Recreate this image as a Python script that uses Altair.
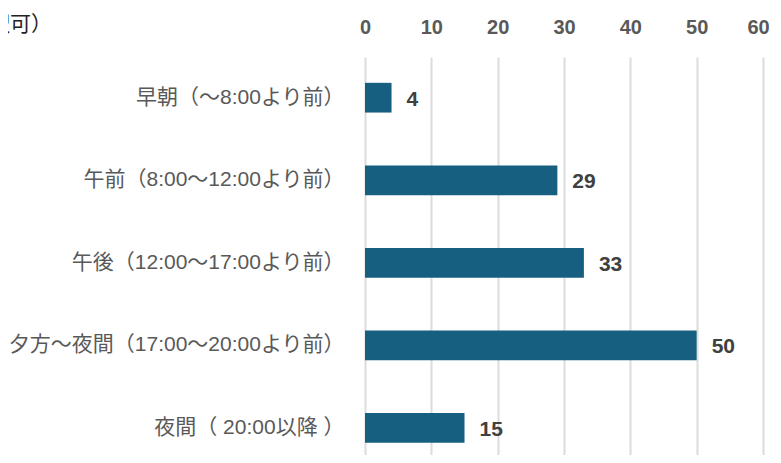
import altair as alt
import pandas as pd

categories = [
    "早朝（～8:00より前）",
    "午前（8:00～12:00より前）",
    "午後（12:00～17:00より前）",
    "夕方～夜間（17:00～20:00より前）",
    "夜間（ 20:00以降 ）",
]
values = [4, 29, 33, 50, 15]
x_ticks = [0, 10, 20, 30, 40, 50, 60]
title_text = "（複数選択可）"

df = pd.DataFrame({"cat": categories, "val": values})

FONT = "Liberation Sans, Noto Sans CJK JP"
BAR = "#175f80"

y_enc = alt.Y(
    "cat:N",
    sort=categories,
    scale=alt.Scale(paddingInner=0.64, paddingOuter=0.23, align=0.68),
    axis=alt.Axis(
        title=None, ticks=False, domain=False, labelPadding=21,
        labelFont=FONT, labelFontSize=21, labelColor="#595959",
        labelLimit=400,
    ),
)
x_enc = alt.X(
    "val:Q",
    scale=alt.Scale(domain=[0, 60], nice=False),
    axis=alt.Axis(
        orient="top", values=x_ticks, title=None, ticks=False, domain=False,
        labelFont="Liberation Sans", labelFontSize=20, labelFontWeight="bold",
        labelColor="#595959", labelPadding=20, labelFlush=False,
        labelOffset={"condition": {"test": "datum.value == 60", "value": -5}, "value": 0},
        grid=True, gridColor="#dcdcdc", gridWidth=2,
    ),
)

bars = alt.Chart(df).mark_bar(color=BAR).encode(x=x_enc, y=y_enc)
labels = alt.Chart(df).mark_text(
    align="left", baseline="middle", dx=15, dy=2,
    font="Liberation Sans", fontSize=21, fontWeight="bold", color="#404040",
).encode(x="val:Q", y=alt.Y("cat:N", sort=categories), text="val:Q")

title = alt.Chart(pd.DataFrame({"t": [title_text]})).mark_text(
    align="right", baseline="middle", font="Noto Sans CJK JP", fontSize=21,
    color="#222222",
).encode(x=alt.value(-313), y=alt.value(-32), text="t:N")

chart = (bars + labels + title).properties(
    width=398, height=398,
    padding={"left": 357, "top": 49, "right": 10, "bottom": 0},
    autosize=alt.AutoSizeParams(type="none"),
).configure_view(stroke=None)

chart.save("out.html", embed_options={"renderer": "svg", "actions": False})
